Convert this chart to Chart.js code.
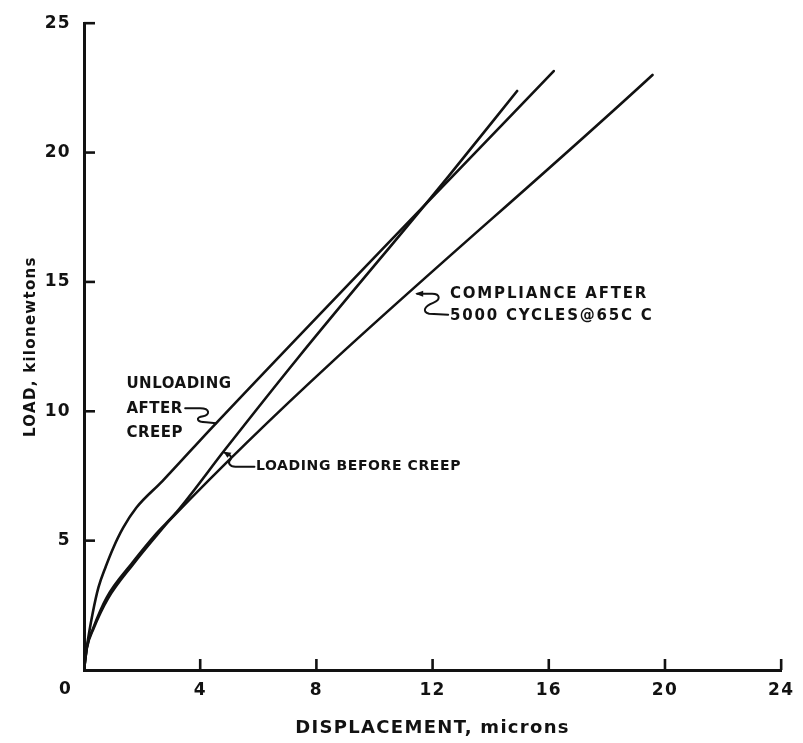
<!DOCTYPE html>
<html>
<head>
<meta charset="utf-8">
<title>Load vs displacement</title>
<script src="https://cdn.jsdelivr.net/npm/chart.js@4.4.1/dist/chart.umd.min.js"></script>
<style>
  html, body { margin: 0; padding: 0; background: #ffffff; }
  canvas { display: block; }
</style>
</head>
<body>
<canvas id="chart" width="803" height="743"></canvas>
<script>
// Unloading after creep (displacement in microns, load in kN)
const unloadingDisp = [0, 0.1, 0.3, 0.5, 0.75, 1.0, 1.35, 1.8, 2.7, 4.39, 16.17];
const unloadingLoad = [0, 0.9, 2.2, 3.2, 4.0, 4.7, 5.5, 6.27, 7.3, 9.35, 23.15];

// Loading before creep
const loadingDisp = [0, 0.1, 0.31, 0.78, 1.67, 2.49, 3.17, 4.87, 7.35, 12.56, 14.91];
const loadingLoad = [0, 0.9, 1.6, 2.8, 4.15, 5.27, 6.08, 8.54, 12.04, 19.1, 22.38];

// Compliance after 5000 cycles at 65 C
const complianceDisp = [0, 0.1, 0.33, 0.82, 1.7, 2.5, 3.0, 19.57];
const complianceLoad = [0, 0.85, 1.6, 2.75, 4.1, 5.2, 5.85, 23.0];

// Axis ticks
const xTicks = [0, 4, 8, 12, 16, 20, 24];
const yTicks = [0, 5, 10, 15, 20, 25];

const INK = '#121212';
const FONT = '"DejaVu Sans", "Liberation Sans", sans-serif';

function toPoints(xs, ys) {
  return xs.map((x, i) => ({ x: x, y: ys[i] }));
}

function curve(label, xs, ys) {
  return {
    label: label,
    data: toPoints(xs, ys),
    borderColor: INK,
    borderWidth: 2.6,
    pointRadius: 0,
    fill: false,
    cubicInterpolationMode: 'monotone',
    borderCapStyle: 'round',
    borderJoinStyle: 'round'
  };
}

// Callout labels, placed in data units; leaders are drawn from an anchor on a curve
const notes = [
  {
    lines: ['UNLOADING', 'AFTER', 'CREEP'],
    x: 1.46, y: 11.04, size: 15, spacing: 0.5, gap: 24.5,
    anchor: { x: 4.55, y: 9.54 },
    leader: [['M', -31, -15], ['L', -16, -15], ['C', -6, -15, -6, -8, -13, -7], ['C', -21, -6, -20, -1, -10, -1], ['L', 0, 0]],
    arrow: null
  },
  {
    lines: ['LOADING BEFORE CREEP'],
    x: 5.92, y: 7.88, size: 14, spacing: 0.6, gap: 0,
    anchor: { x: 4.8, y: 8.44 },
    leader: [['M', 31, 15], ['L', 12, 15], ['C', 6, 15, 4, 11, 7, 8], ['C', 9, 5, 6, 2, 1, 1]],
    arrow: [[0, 0], [8, 1], [4, 6]]
  },
  {
    lines: ['COMPLIANCE AFTER', '5000 CYCLES@65C C'],
    x: 12.6, y: 14.54, size: 15, spacing: 1.8, gap: 22,
    anchor: { x: 11.4, y: 14.54 },
    leader: [['M', 2, 0], ['L', 17, 0], ['C', 25, 0, 26, 6, 18, 9], ['C', 10, 12, 6, 18, 14, 20], ['L', 33, 21]],
    arrow: [[0, 0], [8, -3], [8, 3]]
  }
];

// Tick marks point into the plot area
const inwardTicks = {
  id: 'inwardTicks',
  beforeDraw(chart) {
    chart.ctx.letterSpacing = '1.3px';
  },
  afterDatasetsDraw(chart) {
    const { ctx, chartArea, scales } = chart;
    ctx.save();
    ctx.strokeStyle = INK;
    ctx.lineWidth = 2.6;
    ctx.lineCap = 'butt';
    scales.x.ticks.forEach(t => {
      if (t.value === 0) return;
      const px = scales.x.getPixelForValue(t.value);
      ctx.beginPath();
      ctx.moveTo(px, chartArea.bottom);
      ctx.lineTo(px, chartArea.bottom - 11);
      ctx.stroke();
    });
    scales.y.ticks.forEach(t => {
      if (t.value === 0) return;
      const py = scales.y.getPixelForValue(t.value);
      ctx.beginPath();
      ctx.moveTo(chartArea.left, py);
      ctx.lineTo(chartArea.left + 11, py);
      ctx.stroke();
    });
    ctx.restore();
  }
};

// Shared origin label and the callouts
const callouts = {
  id: 'callouts',
  afterDraw(chart) {
    const { ctx, chartArea, scales } = chart;
    const xs = scales.x, ys = scales.y;
    ctx.save();
    ctx.fillStyle = INK;
    ctx.strokeStyle = INK;

    // origin "0"
    ctx.font = 'bold 17px ' + FONT;
    ctx.letterSpacing = '0px';
    ctx.textAlign = 'center';
    ctx.textBaseline = 'middle';
    ctx.fillText('0', xs.getPixelForValue(0) - 19, chartArea.bottom + 20);

    notes.forEach(n => {
      ctx.font = 'bold ' + n.size + 'px ' + FONT;
      ctx.letterSpacing = n.spacing + 'px';
      ctx.textAlign = 'left';
      ctx.textBaseline = 'middle';
      const tx = xs.getPixelForValue(n.x);
      const ty = ys.getPixelForValue(n.y);
      n.lines.forEach((line, i) => ctx.fillText(line, tx, ty + i * n.gap));

      const ax = xs.getPixelForValue(n.anchor.x);
      const ay = ys.getPixelForValue(n.anchor.y);
      ctx.lineWidth = 2;
      ctx.lineCap = 'round';
      ctx.lineJoin = 'round';
      ctx.beginPath();
      n.leader.forEach(c => {
        if (c[0] === 'M') ctx.moveTo(ax + c[1], ay + c[2]);
        else if (c[0] === 'L') ctx.lineTo(ax + c[1], ay + c[2]);
        else ctx.bezierCurveTo(ax + c[1], ay + c[2], ax + c[3], ay + c[4], ax + c[5], ay + c[6]);
      });
      ctx.stroke();
      if (n.arrow) {
        ctx.beginPath();
        n.arrow.forEach((p, i) => {
          if (i === 0) ctx.moveTo(ax + p[0], ay + p[1]);
          else ctx.lineTo(ax + p[0], ay + p[1]);
        });
        ctx.closePath();
        ctx.fill();
      }
    });
    ctx.restore();
  }
};

new Chart(document.getElementById('chart').getContext('2d'), {
  type: 'line',
  data: {
    datasets: [
      curve('Unloading after creep', unloadingDisp, unloadingLoad),
      curve('Loading before creep', loadingDisp, loadingLoad),
      curve('Compliance after 5000 cycles @ 65 C', complianceDisp, complianceLoad)
    ]
  },
  options: {
    responsive: false,
    animation: false,
    devicePixelRatio: 1,
    layout: { padding: { top: 20, right: 14, bottom: 0, left: 0 } },
    plugins: {
      legend: { display: false },
      tooltip: { enabled: false }
    },
    scales: {
      x: {
        type: 'linear',
        min: 0,
        max: 24,
        afterBuildTicks: s => { s.ticks = xTicks.map(v => ({ value: v })); },
        afterFit: s => { s.height = 73; },
        grid: { display: false, drawTicks: false },
        border: { display: true, color: INK, width: 3 },
        ticks: {
          padding: 10,
          color: INK,
          maxRotation: 0,
          font: { family: FONT, size: 17, weight: 'bold' },
          callback: v => (v === 0 ? '' : String(v))
        },
        title: {
          display: true,
          text: 'DISPLACEMENT, microns',
          color: INK,
          font: { family: FONT, size: 18, weight: 'bold' },
          padding: { top: 0, bottom: 4 }
        }
      },
      y: {
        type: 'linear',
        min: 0,
        max: 25,
        afterBuildTicks: s => { s.ticks = yTicks.map(v => ({ value: v })); },
        afterFit: s => { s.width = 84; },
        grid: { display: false, drawTicks: false },
        border: { display: true, color: INK, width: 3 },
        ticks: {
          padding: 13,
          color: INK,
          font: { family: FONT, size: 17, weight: 'bold' },
          callback: v => (v === 0 ? '' : String(v))
        },
        title: {
          display: true,
          text: 'LOAD, kilonewtons',
          color: INK,
          font: { family: FONT, size: 15, weight: 'bold' },
          padding: { top: 22, bottom: 0 }
        }
      }
    }
  },
  plugins: [inwardTicks, callouts]
});
</script>
</body>
</html>
